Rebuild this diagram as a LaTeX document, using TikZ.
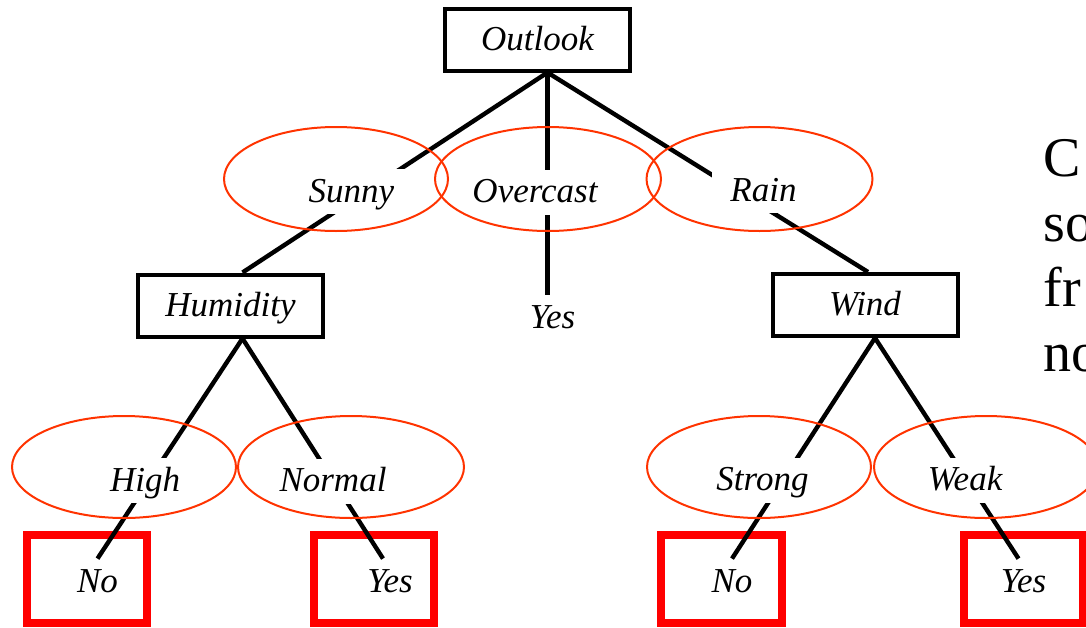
\documentclass[tikz,border=0pt]{standalone}
\usepackage{fontspec}
\setmainfont{Liberation Serif}
\usepackage{tikz}
\usetikzlibrary{calc}
\definecolor{ovalred}{RGB}{255, 51, 0}
\definecolor{leafred}{RGB}{255, 0, 0}

\begin{document}
\begin{tikzpicture}[x=0.5pt, y=-0.5pt,
  attr/.style={draw, line width=2pt, minimum width=92.5pt, minimum height=31pt, inner sep=0pt,
    font=\fontsize{17.5}{21}\selectfont\itshape, text height=13pt, text depth=2.5pt},
  branch/.style={fill=white, inner xsep=9pt, inner ysep=3.5pt,
    font=\fontsize{17.5}{21}\selectfont\itshape, text height=13pt, text depth=2.5pt},
  leaf/.style={inner sep=3.5pt, font=\fontsize{17.5}{21}\selectfont\itshape, text height=13pt, text depth=2.5pt},
  treeline/.style={line width=2.2pt},
  oval/.style={ovalred, line width=1pt},
  leafbox/.style={leafred, line width=4pt}]
  \useasboundingbox (0,0) rectangle (1086,627);
  \clip (0,0) rectangle (1086,627);

  % attribute nodes
  \node[attr] (outlook) at (537.5,39.5) {Outlook};
  \node[attr] (humidity) at (230.5,305.5) {Humidity};
  \node[attr] (wind) at (865,305) {Wind};

  % leaves
  \node[leaf] (noA) at (97.5,581.5) {No};
  \node[leaf] (yesA) at (390,581.5) {Yes};
  \node[leaf] (yesC) at (552.5,317.5) {Yes};
  \node[leaf] (noB) at (732,581.5) {No};
  \node[leaf] (yesB) at (1023.5,581.5) {Yes};

  % red boxes round the leaves
  \draw[leafbox] (27,535) rectangle (147,623);
  \draw[leafbox] (314,535) rectangle (434,623);
  \draw[leafbox] (661,535) rectangle (782,623);
  \draw[leafbox] (964,535) rectangle (1083,623);

  % tree lines
  \coordinate (root) at ($(outlook.south)+(10,0)$);
  \draw[treeline] (root) -- ($(humidity.north)+(12,0)$);
  \draw[treeline] (root) -- (root |- yesC.north);
  \draw[treeline] (root) -- ($(wind.north)+(3,0)$);
  \coordinate (hum) at ($(humidity.south)+(12,0)$);
  \draw[treeline] (hum) -- (noA.north);
  \draw[treeline] (hum) -- ($(yesA.north)+(-7,0)$);
  \coordinate (wnd) at ($(wind.south)+(10,0)$);
  \draw[treeline] (wnd) -- (noB.north);
  \draw[treeline] (wnd) -- ($(yesB.north)+(-5,0)$);

  % branch values, over the lines
  \node[branch] (sunny) at (351.5,191.5) {Sunny};
  \node[branch] (overcast) at (535,192) {Overcast};
  \node[branch] (rain) at (763.5,190.5) {Rain};
  \node[branch] (high) at (145,480.5) {High};
  \node[branch] (normal) at (333,481) {Normal};
  \node[branch] (strong) at (762.5,480) {Strong};
  \node[branch] (weak) at (965,480) {Weak};

  % ovals round the branch values
  \draw[oval] (336,179) ellipse [x radius=56pt, y radius=26pt];
  \draw[oval] (548,179) ellipse [x radius=56.5pt, y radius=26pt];
  \draw[oval] (759.5,179) ellipse [x radius=56.5pt, y radius=26pt];
  \draw[oval] (124,467) ellipse [x radius=56pt, y radius=25.5pt];
  \draw[oval] (351,467) ellipse [x radius=56.5pt, y radius=25.5pt];
  \draw[oval] (759,467) ellipse [x radius=56pt, y radius=25.5pt];
  \draw[oval] (986,467) ellipse [x radius=56pt, y radius=25.5pt];

  % text at the right edge
  \node[anchor=north west, inner sep=0pt, align=left, font=\fontsize{28}{32.5}\selectfont] (side) at (1043,139) {C\\so\\fr\\no};
\end{tikzpicture}
\end{document}
